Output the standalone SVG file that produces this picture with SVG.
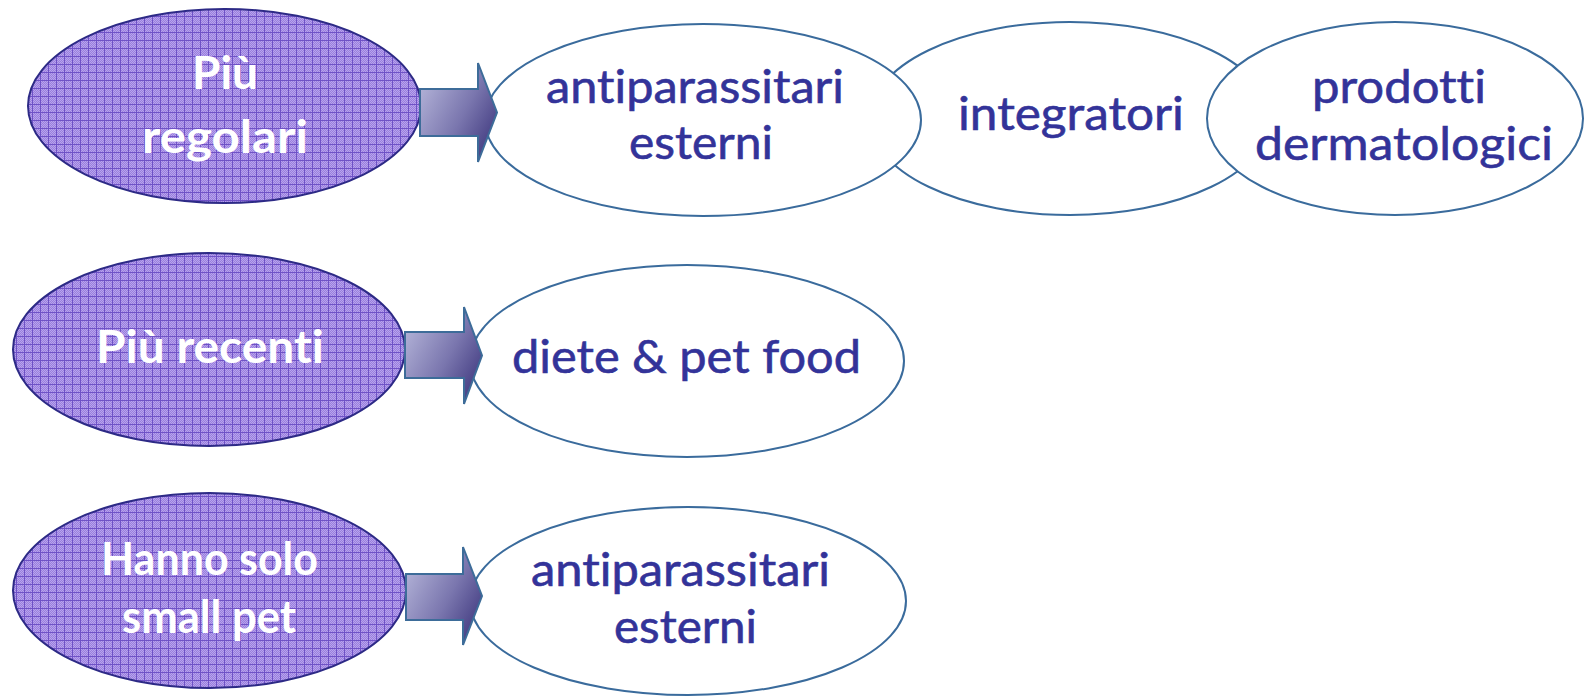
<svg xmlns="http://www.w3.org/2000/svg" width="1584" height="696" viewBox="0 0 1584 696">
<style>
.src{stroke:#2d2a86;stroke-width:2;fill:url(#grid)}
.dst{stroke:#3a6b9c;stroke-width:2;fill:#ffffff}
.arr{stroke:#3d6c99;stroke-width:2;fill:url(#ag);stroke-linejoin:miter}
text{font-variant-ligatures:none;font-feature-settings:"liga" 0,"clig" 0}
.lw{font-family:Lato,"Open Sans","DejaVu Sans",sans-serif;font-weight:bold;font-size:46px;fill:#ffffff}
.lb{font-family:Lato,"Open Sans","DejaVu Sans",sans-serif;font-size:46px;fill:#333399;stroke:#333399;stroke-width:0.6}
</style>
<defs>
<pattern id="chk" x="0" y="0" width="2" height="2" patternUnits="userSpaceOnUse">
<rect width="2" height="2" fill="#9a7fdc"/>
<rect width="1" height="1" fill="#b7a3ee"/>
<rect x="1" y="1" width="1" height="1" fill="#b7a3ee"/>
</pattern>
<pattern id="grid" x="0" y="0" width="8" height="8" patternUnits="userSpaceOnUse">
<rect width="8" height="8" fill="url(#chk)"/>
<rect x="0" y="0" width="8" height="1" fill="#6f52c6"/>
<rect x="0" y="0" width="1" height="8" fill="#6f52c6"/>
</pattern>
<linearGradient id="ag" x1="0" y1="0.15" x2="1" y2="0.85">
<stop offset="0" stop-color="#b6b6da"/>
<stop offset="0.55" stop-color="#7a76ae"/>
<stop offset="1" stop-color="#3c357c"/>
</linearGradient>
</defs>

<g id="n-integratori">
<ellipse class="dst" cx="1070" cy="118.5" rx="200" ry="96.5"/>
<text class="lb" x="958" y="130" textLength="226" lengthAdjust="spacingAndGlyphs">integratori</text>
</g>
<g id="n-antiparassitari-1">
<ellipse class="dst" cx="703" cy="120" rx="218" ry="96"/>
<text class="lb" x="546" y="103" textLength="298" lengthAdjust="spacingAndGlyphs">antiparassitari</text>
<text class="lb" x="629" y="159" textLength="144" lengthAdjust="spacingAndGlyphs">esterni</text>
</g>
<g id="n-prodotti">
<ellipse class="dst" cx="1395" cy="118.5" rx="188" ry="96.5"/>
<text class="lb" x="1312" y="103" textLength="174" lengthAdjust="spacingAndGlyphs">prodotti</text>
<text class="lb" x="1255" y="160" textLength="298" lengthAdjust="spacingAndGlyphs">dermatologici</text>
</g>
<g id="n-piu-regolari">
<ellipse class="src" cx="224.5" cy="106" rx="196.5" ry="97"/>
<text class="lw" x="192" y="89" textLength="66" lengthAdjust="spacingAndGlyphs">Più</text>
<text class="lw" x="142" y="153" textLength="166" lengthAdjust="spacingAndGlyphs">regolari</text>
</g>

<g id="n-diete">
<ellipse class="dst" cx="687" cy="361" rx="217" ry="96"/>
<text class="lb" x="512" y="373" textLength="349" lengthAdjust="spacingAndGlyphs">diete &amp; pet food</text>
</g>
<g id="n-piu-recenti">
<ellipse class="src" cx="209" cy="349.5" rx="196" ry="96.5"/>
<text class="lw" x="96" y="363" textLength="228" lengthAdjust="spacingAndGlyphs">Più recenti</text>
</g>

<g id="n-antiparassitari-2">
<ellipse class="dst" cx="688" cy="601" rx="218" ry="94"/>
<text class="lb" x="531" y="586" textLength="299" lengthAdjust="spacingAndGlyphs">antiparassitari</text>
<text class="lb" x="614" y="643" textLength="143" lengthAdjust="spacingAndGlyphs">esterni</text>
</g>
<g id="n-small-pet">
<ellipse class="src" cx="209.5" cy="590.5" rx="196.5" ry="97.5"/>
<text class="lw" x="101" y="575" textLength="217" lengthAdjust="spacingAndGlyphs">Hanno solo</text>
<text class="lw" x="122" y="633" textLength="174" lengthAdjust="spacingAndGlyphs">small pet</text>
</g>

<g id="connectors">
<path class="arr" d="M420,89 L478,89 L478,63 L497,112.5 L478,162 L478,136 L420,136 Z"/>
<path class="arr" d="M405,332 L464,332 L464,307 L482,355.5 L464,404 L464,378 L405,378 Z"/>
<path class="arr" d="M406,574 L463,574 L463,547 L482,596 L463,645 L463,620 L406,620 Z"/>
</g>
</svg>
